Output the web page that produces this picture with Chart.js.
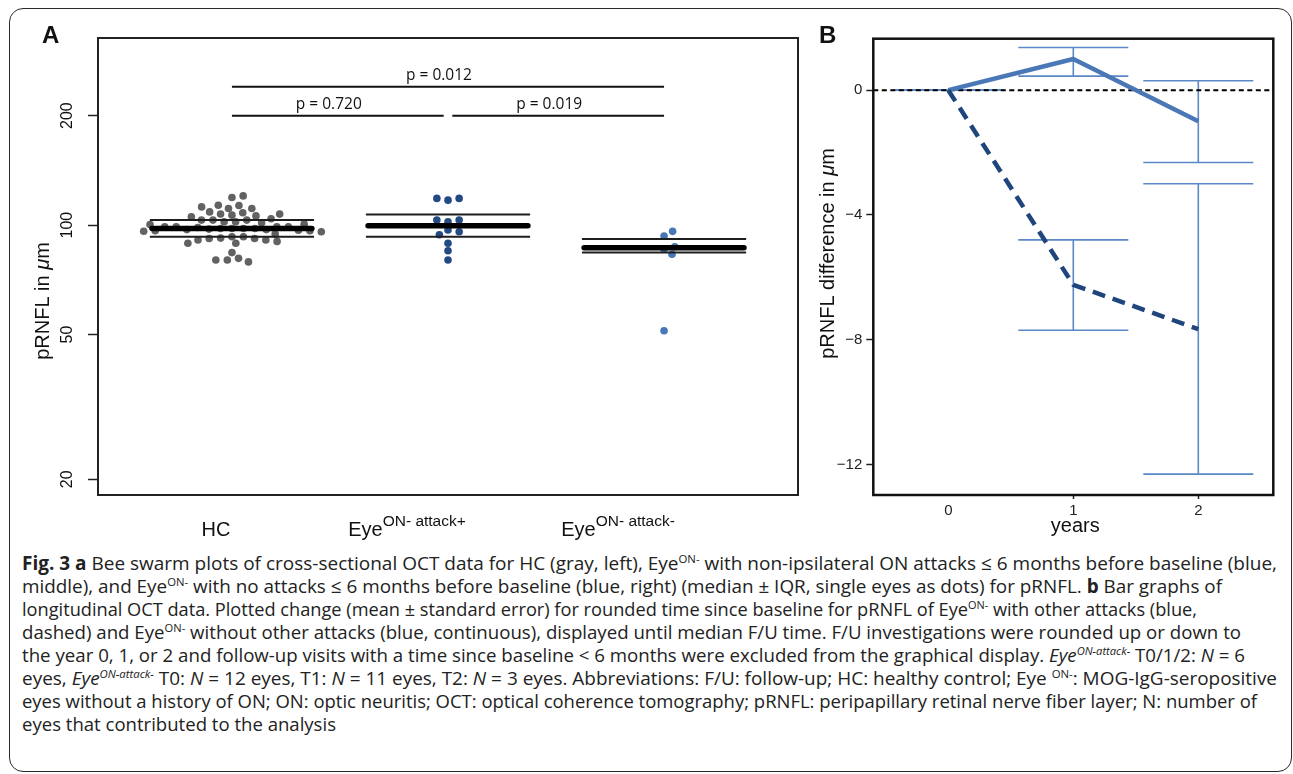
<!DOCTYPE html>
<html>
<head>
<meta charset="utf-8">
<script src="https://cdn.jsdelivr.net/npm/chart.js@4.4.0/dist/chart.umd.min.js"></script>
<style>
  html, body { margin: 0; padding: 0; background: #fff; }
  body { width: 1293px; height: 774px; position: relative; overflow: hidden; }
  #frame { position: absolute; left: 9px; top: 8px; width: 1283px; height: 764px; border: 1.5px solid #2b2b2b; border-radius: 14px; box-sizing: border-box; }
  #chartA { position: absolute; left: 0; top: 0; }
  #chartB { position: absolute; left: 810px; top: 0; }
  .panel { position: absolute; font: bold 24px "Liberation Sans", Arial, sans-serif; line-height: 24px; color: #111; }
  #caption { position: absolute; left: 22px; top: 552px; font-family: "Open Sans", sans-serif; font-size: 19px; line-height: 23px; color: #222; }
  #caption div { white-space: nowrap; width: max-content; transform-origin: 0 0; }
  #caption sup { font-size: 60%; vertical-align: 0.65em; line-height: 0; }
</style>
</head>
<body>
<div id="frame"></div>
<canvas id="chartA" width="810" height="548"></canvas>
<canvas id="chartB" width="483" height="548"></canvas>
<div class="panel" style="left:42px; top:23px;">A</div>
<div class="panel" style="left:819px; top:23px;">B</div>

<div id="caption">
<div><b>Fig. 3 a</b> Bee swarm plots of cross-sectional OCT data for HC (gray, left), Eye<sup>ON-</sup> with non-ipsilateral ON attacks ≤ 6 months before baseline (blue,</div>
<div>middle), and Eye<sup>ON-</sup> with no attacks ≤ 6 months before baseline (blue, right) (median ± IQR, single eyes as dots) for pRNFL. <b>b</b> Bar graphs of</div>
<div>longitudinal OCT data. Plotted change (mean ± standard error) for rounded time since baseline for pRNFL of Eye<sup>ON-</sup> with other attacks (blue,</div>
<div>dashed) and Eye<sup>ON-</sup> without other attacks (blue, continuous), displayed until median F/U time. F/U investigations were rounded up or down to</div>
<div>the year 0, 1, or 2 and follow-up visits with a time since baseline &lt; 6 months were excluded from the graphical display. <i>Eye<sup>ON-attack-</sup></i> T0/1/2: <i>N</i> = 6</div>
<div>eyes, <i>Eye<sup>ON-attack-</sup></i> T0: <i>N</i> = 12 eyes, T1: <i>N</i> = 11 eyes, T2: <i>N</i> = 3 eyes. Abbreviations: F/U: follow-up; HC: healthy control; Eye <sup>ON-</sup>: MOG-IgG-seropositive</div>
<div>eyes without a history of ON; ON: optic neuritis; OCT: optical coherence tomography; pRNFL: peripapillary retinal nerve fiber layer; N: number of</div>
<div>eyes that contributed to the analysis</div>
</div>

<script>
// ---- Panel A data (pRNFL in um, single eyes) ----
const groupNames = ['HC', 'Eye', 'Eye'];
const groupSups = ['', 'ON- attack+', 'ON- attack-'];
const hcValues = [
  120.3, 119.1,
  113.2, 112.2, 111.1, 111.1, 113.4,
  108.1, 107.2, 106.0, 105.4, 106.5, 107.2, 108.7,
  103.2, 102.1, 101.5, 100.4, 103.2, 100.6, 102.1, 103.2, 104.1,
  98.9, 98.9, 97.9, 97.2, 96.5, 97.9, 96.2, 97.5, 95.9, 96.8, 97.9, 96.5, 97.2, 97.9, 98.5, 98.9, 98.9,
  94.5, 92.9, 91.9, 91.0, 90.2, 89.1, 89.1, 91.0, 91.9, 92.1, 92.9,
  84.0,
  80.2, 79.2, 80.2, 81.0
];
const attackPlusValues = [118.4, 117.1, 118.4, 103.2, 102.1, 103.2, 96.9, 94.1, 95.9, 89.1, 85.0, 80.2];
const attackMinusValues = [93.3, 96.1, 87.2, 85.8, 83.1, 51.2];
const medians = [97.9, 99.6, 86.7];
const q1 = [92.9, 92.9, 84.0];
const q3 = [103.2, 107.0, 91.5];
const yTicksA = [20, 50, 100, 200];
const pLabels = ['p = 0.720', 'p = 0.019', 'p = 0.012'];
const pPairs = [[1, 2], [2, 3], [1, 3]];

// ---- Panel B data (change from baseline, um) ----
const years = [0, 1, 2];
const meanNoAttack = [0, 1.0, -1.0];
const lowNoAttack = [0, 0.45, -2.32];
const highNoAttack = [0, 1.37, 0.30];
const meanAttack = [0, -6.24, -7.66];
const lowAttack = [0, -7.70, -12.31];
const highAttack = [0, -4.80, -3.0];
const yTicksB = [-12, -8, -4, 0];

const dotColors = ['#626262', '#244a86', '#4777b6'];
const FONT = '"Liberation Sans", Arial, sans-serif';

// draw several text runs on one line (for superscripts / italics)
function drawRuns(ctx, runs, x, y) {
  let total = 0;
  runs.forEach(r => { ctx.font = r.font; r.w = ctx.measureText(r.text).width; total += r.w; });
  let cx = x - total / 2;
  ctx.textAlign = 'left';
  runs.forEach(r => { ctx.font = r.font; ctx.fillText(r.text, cx, y + (r.dy || 0)); cx += r.w; });
}

// simple bee swarm in pixel space (anisotropic spacing)
function swarmOffsets(yPix, sx, sy) {
  const sorted = yPix.slice().sort((a, b) => a - b);
  const med = sorted[Math.floor(sorted.length / 2)];
  const order = yPix.map((v, i) => i).sort((a, b) => Math.abs(yPix[a] - med) - Math.abs(yPix[b] - med));
  const placed = [];
  const offs = new Array(yPix.length);
  order.forEach(i => {
    const y = yPix[i];
    const cands = [0];
    placed.forEach(p => {
      const dy = (y - p.y) / sy;
      if (Math.abs(dy) < 1) {
        const dx = Math.sqrt(1 - dy * dy) * sx;
        cands.push(p.x + dx, p.x - dx);
      }
    });
    const ok = cands.filter(c => placed.every(p => ((c - p.x) / sx) ** 2 + ((y - p.y) / sy) ** 2 >= 0.999));
    ok.sort((a, b) => Math.abs(a) - Math.abs(b) || b - a);
    offs[i] = ok[0];
    placed.push({ x: ok[0], y: y });
  });
  return offs;
}

// ---------------- Panel A ----------------
const groupValues = [hcValues, attackPlusValues, attackMinusValues];
const halfW = 0.38;
const datasetsA = [];
groupValues.forEach((vals, gi) => {
  datasetsA.push({
    data: vals.map(v => ({ x: gi + 1, y: v })),
    showLine: false,
    pointRadius: 3.8,
    pointBorderWidth: 0,
    pointBackgroundColor: dotColors[gi],
    order: 1
  });
});
[q1, q3].forEach(arr => {
  arr.forEach((v, gi) => {
    datasetsA.push({
      data: [{ x: gi + 1 - halfW, y: v }, { x: gi + 1 + halfW, y: v }],
      showLine: true, pointRadius: 0, borderColor: '#1e1e1e', borderWidth: 2, order: 0
    });
  });
});
medians.forEach((v, gi) => {
  datasetsA.push({
    data: [{ x: gi + 1 - halfW + 0.01, y: v }, { x: gi + 1 + halfW - 0.01, y: v }],
    showLine: true, pointRadius: 0, borderColor: '#000', borderWidth: 5.5, borderCapStyle: 'round', order: 0
  });
});

const bracketLevels = [200, 200, 240];
const panelAExtras = {
  id: 'panelAExtras',
  afterDraw(chart) {
    const { ctx, chartArea: a, scales: { x, y } } = chart;
    ctx.save();
    ctx.strokeStyle = '#222';
    ctx.lineWidth = 2;
    ctx.strokeRect(a.left, a.top, a.right - a.left, a.bottom - a.top);
    ctx.fillStyle = '#111';
    // rotated tick labels
    yTicksA.forEach(v => {
      ctx.save();
      ctx.translate(68, y.getPixelForValue(v));
      ctx.rotate(-Math.PI / 2);
      ctx.font = '16px ' + FONT;
      ctx.textAlign = 'center';
      ctx.textBaseline = 'middle';
      ctx.fillText(String(v), 0, 0);
      ctx.restore();
    });
    // axis title
    ctx.save();
    ctx.translate(48.5, 301);
    ctx.rotate(-Math.PI / 2);
    ctx.textBaseline = 'alphabetic';
    drawRuns(ctx, [
      { text: 'pRNFL in ', font: '20px ' + FONT },
      { text: 'μ', font: 'italic 20px ' + FONT },
      { text: 'm', font: '20px ' + FONT }
    ], 0, 0);
    ctx.restore();
    // group labels
    const labelShift = [-16, -41, -46];
    groupNames.forEach((g, gi) => {
      const runs = [{ text: g, font: '20px ' + FONT }];
      if (groupSups[gi]) runs.push({ text: groupSups[gi], font: '15.5px ' + FONT, dy: -10 });
      ctx.textBaseline = 'alphabetic';
      drawRuns(ctx, runs, x.getPixelForValue(gi + 1) + labelShift[gi], 536);
    });
    // significance brackets
    ctx.lineWidth = 2;
    ctx.strokeStyle = '#111';
    pPairs.forEach((pair, k) => {
      const gapL = pair[0] === 2 ? 0.02 : 0;
      const gapR = pair[1] === 2 ? 0.02 : 0;
      const x1 = x.getPixelForValue(pair[0] + gapL);
      const x2 = x.getPixelForValue(pair[1] - gapR);
      const yy = y.getPixelForValue(bracketLevels[k]);
      ctx.beginPath();
      ctx.moveTo(x1, yy);
      ctx.lineTo(x2, yy);
      ctx.stroke();
      ctx.font = '15.5px "Open Sans", sans-serif';
      ctx.textAlign = 'center';
      ctx.textBaseline = 'alphabetic';
      ctx.fillText(pLabels[k], (x1 + x2) / 2 - 9, yy - 7);
    });
    ctx.restore();
  }
};

const chartA = new Chart(document.getElementById('chartA'), {
  type: 'scatter',
  data: { datasets: datasetsA },
  options: {
    responsive: false,
    animation: false,
    events: [],
    layout: { padding: { top: 38, right: 12, bottom: 53, left: 0 } },
    plugins: { legend: { display: false }, tooltip: { enabled: false } },
    scales: {
      x: { type: 'linear', min: 0.38, max: 3.62, display: false },
      y: {
        type: 'logarithmic', min: 18.1, max: 327,
        afterFit: s => { s.width = 98; },
        afterBuildTicks: s => { s.ticks = yTicksA.map(v => ({ value: v })); },
        ticks: { display: false },
        grid: { drawOnChartArea: false, drawTicks: true, tickLength: 10, tickColor: '#222', tickWidth: 1.5 },
        border: { display: false }
      }
    }
  },
  plugins: [panelAExtras]
});

// lay the dots out as a swarm using the chart's own scales
groupValues.forEach((vals, gi) => {
  const xs = chartA.scales.x, ys = chartA.scales.y;
  const yPix = vals.map(v => ys.getPixelForValue(v));
  const offs = swarmOffsets(yPix, 11.5, 7);
  const cx = xs.getPixelForValue(gi + 1);
  chartA.data.datasets[gi].data = vals.map((v, k) => ({ x: xs.getValueForPixel(cx + offs[k]), y: v }));
});
chartA.update('none');

// ---------------- Panel B ----------------
const capHalf = 0.44;
const panelBExtras = {
  id: 'panelBExtras',
  beforeDatasetsDraw(chart) {
    const { ctx, chartArea: a, scales: { x, y } } = chart;
    ctx.save();
    ctx.strokeStyle = '#5b88c6';
    ctx.lineWidth = 1.6;
    [[lowNoAttack, highNoAttack], [lowAttack, highAttack]].forEach(([lo, hi]) => {
      years.forEach((yr, i) => {
        const px = x.getPixelForValue(yr);
        const l = x.getPixelForValue(yr - capHalf), r = x.getPixelForValue(yr + capHalf);
        const pl = y.getPixelForValue(lo[i]), ph = y.getPixelForValue(hi[i]);
        ctx.beginPath();
        ctx.moveTo(px, pl); ctx.lineTo(px, ph);
        ctx.moveTo(l, pl); ctx.lineTo(r, pl);
        ctx.moveTo(l, ph); ctx.lineTo(r, ph);
        ctx.stroke();
      });
    });
    ctx.setLineDash([5, 3.5]);
    ctx.strokeStyle = '#000';
    ctx.lineWidth = 2;
    const y0 = y.getPixelForValue(0);
    ctx.beginPath();
    ctx.moveTo(a.left, y0);
    ctx.lineTo(a.right, y0);
    ctx.stroke();
    ctx.restore();
  },
  afterDraw(chart) {
    const { ctx, chartArea: a } = chart;
    ctx.save();
    ctx.strokeStyle = '#111';
    ctx.lineWidth = 2.5;
    ctx.strokeRect(a.left, a.top, a.right - a.left, a.bottom - a.top);
    ctx.fillStyle = '#111';
    ctx.save();
    ctx.translate(23.5, 253.5);
    ctx.rotate(-Math.PI / 2);
    ctx.textBaseline = 'alphabetic';
    drawRuns(ctx, [
      { text: 'pRNFL difference in ', font: '20px ' + FONT },
      { text: 'μ', font: 'italic 20px ' + FONT },
      { text: 'm', font: '20px ' + FONT }
    ], 0, 0);
    ctx.restore();
    ctx.font = '20px ' + FONT;
    ctx.textAlign = 'center';
    ctx.textBaseline = 'alphabetic';
    ctx.fillText('years', (a.left + a.right) / 2 + 2, 532);
    ctx.restore();
  }
};

new Chart(document.getElementById('chartB'), {
  type: 'scatter',
  data: {
    datasets: [
      {
        data: years.map((t, i) => ({ x: t, y: meanNoAttack[i] })),
        showLine: true, pointRadius: 0, borderColor: '#4a78b6', borderWidth: 4.5,
        borderJoinStyle: 'round', order: 1
      },
      {
        data: years.map((t, i) => ({ x: t, y: meanAttack[i] })),
        showLine: true, pointRadius: 0, borderColor: '#1f457d', borderWidth: 4.5,
        borderDash: [13, 8], borderJoinStyle: 'round', order: 0
      }
    ]
  },
  options: {
    responsive: false,
    animation: false,
    events: [],
    layout: { padding: { top: 38.7, right: 19.7, bottom: 0, left: 0 } },
    plugins: { legend: { display: false }, tooltip: { enabled: false } },
    scales: {
      x: {
        type: 'linear', min: -0.6, max: 2.6,
        afterBuildTicks: s => { s.ticks = years.map(v => ({ value: v })); },
        afterFit: s => { s.height = 53; },
        ticks: { font: { family: FONT, size: 15 }, color: '#222', padding: 3, maxRotation: 0 },
        grid: {
          drawOnChartArea: false, tickLength: 4, tickWidth: 1.5,
          tickColor: c => (c.tick && c.tick.value === 0) ? 'rgba(0,0,0,0)' : '#222'
        },
        border: { display: false }
      },
      y: {
        type: 'linear', min: -12.98, max: 1.65,
        afterBuildTicks: s => { s.ticks = yTicksB.map(v => ({ value: v })); },
        afterFit: s => { s.width = 63.3; },
        ticks: {
          font: { family: FONT, size: 15 }, color: '#222', padding: 4,
          callback: v => String(v).replace('-', '\u2212')
        },
        grid: { drawOnChartArea: false, tickLength: 7, tickColor: '#222', tickWidth: 1.5 },
        border: { display: false }
      }
    }
  },
  plugins: [panelBExtras]
});

// ---------------- caption: fit each line to its measured length ----------------
const captionRight = [1277, 1222, 1197, 1241, 1245, 1277, 1257, 336];
document.querySelectorAll('#caption div').forEach((d, i) => {
  const w = d.getBoundingClientRect().width;
  d.style.transform = 'scaleX(' + ((captionRight[i] - 22) / w) + ')';
});
</script>
</body>
</html>
